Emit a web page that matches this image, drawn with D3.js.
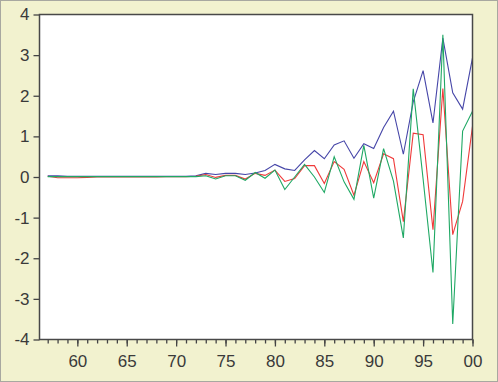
<!DOCTYPE html>
<html>
<head>
<meta charset="utf-8">
<script src="https://cdn.jsdelivr.net/npm/d3@7"></script>
<style>
  html, body { margin: 0; padding: 0; background: #f2f2cf; }
  #chart { width: 498px; height: 382px; }
  text { font-family: "Liberation Sans", Arial, sans-serif; }
</style>
</head>
<body>
<div id="chart"></div>
<script>
let dim = { width: 498, height: 382 };

// annual observations 1957-2000
const years = [1957, 1958, 1959, 1960, 1961, 1962, 1963, 1964, 1965, 1966, 1967,
  1968, 1969, 1970, 1971, 1972, 1973, 1974, 1975, 1976, 1977, 1978, 1979, 1980,
  1981, 1982, 1983, 1984, 1985, 1986, 1987, 1988, 1989, 1990, 1991, 1992, 1993,
  1994, 1995, 1996, 1997, 1998, 1999, 2000];

const blueSeries = [0.03, 0.03, 0.02, 0.02, 0.02, 0.02, 0.02, 0.02, 0.02, 0.02, 0.02,
  0.02, 0.02, 0.02, 0.02, 0.03, 0.09, 0.06, 0.09, 0.09, 0.06, 0.10, 0.16, 0.31,
  0.20, 0.16, 0.42, 0.65, 0.45, 0.79, 0.89, 0.46, 0.82, 0.70, 1.22, 1.62, 0.56,
  1.85, 2.62, 1.33, 3.42, 2.07, 1.67, 2.93];

const redSeries = [0.02, -0.02, -0.02, -0.02, -0.01, 0.0, 0.0, 0.0, 0.0, 0.0, 0.0,
  0.0, 0.01, 0.01, 0.01, 0.02, 0.06, -0.01, 0.04, 0.04, -0.05, 0.09, 0.04, 0.17,
  -0.11, -0.04, 0.28, 0.28, -0.16, 0.38, 0.19, -0.45, 0.38, -0.14, 0.57, 0.45, -1.10,
  1.08, 1.04, -1.30, 2.18, -1.42, -0.60, 1.25];

const greenSeries = [0.01, 0.01, 0.01, 0.01, 0.01, 0.01, 0.01, 0.01, 0.01, 0.01, 0.01,
  0.01, 0.01, 0.01, 0.01, 0.01, 0.03, -0.05, 0.03, 0.03, -0.08, 0.11, -0.03, 0.17,
  -0.31, 0.0, 0.31, 0.0, -0.38, 0.50, -0.12, -0.55, 0.78, -0.52, 0.70, -0.10, -1.50,
  2.17, -0.05, -2.35, 3.50, -3.62, 1.13, 1.62];

const yTicks = [-4, -3, -2, -1, 0, 1, 2, 3, 4];
const xMajorTicks = [1960, 1965, 1970, 1975, 1980, 1985, 1990, 1995, 2000];

let svg = d3.select('#chart').append('svg')
    .attr('width', dim.width)
    .attr('height', dim.height);

// outer border of the picture
svg.append('rect')
    .attr('x', 0.5).attr('y', 0.5)
    .attr('width', dim.width - 1).attr('height', dim.height - 1)
    .attr('fill', '#f2f2cf')
    .attr('stroke', '#a8a8a0');

let plot = { left: 39.5, right: 472.5, top: 14.5, bottom: 339.5 };

let scaleX = d3.scaleLinear()
    .domain([1956.17, 2000])
    .range([plot.left, plot.right]);

let scaleY = d3.scaleLinear()
    .domain([-4, 4])
    .range([plot.bottom, plot.top]);

svg.append('rect')
    .attr('x', plot.left).attr('y', plot.top)
    .attr('width', plot.right - plot.left)
    .attr('height', plot.bottom - plot.top)
    .attr('fill', '#ffffff');

// y axis
let axisY = svg.append('g')
    .attr('transform', `translate(${plot.left},0)`)
    .call(d3.axisLeft(scaleY).tickValues(yTicks).tickSize(6).tickPadding(4)
        .tickFormat(d3.format('d')));
axisY.select('.domain').remove();
axisY.selectAll('line').attr('stroke', '#444').attr('stroke-width', 1.3);
axisY.selectAll('text')
    .attr('font-size', 17).attr('fill', '#3a3a3a')
    .attr('font-family', '"Liberation Sans", Arial, sans-serif')
    .text(d => d < 0 ? '-' + Math.abs(d) : d);

// x axis: minor ticks every year, major ticks every five
let axisXMinor = svg.append('g')
    .attr('transform', `translate(0,${plot.bottom})`)
    .call(d3.axisBottom(scaleX).tickValues(years).tickSize(4).tickFormat(''));
axisXMinor.select('.domain').remove();
axisXMinor.selectAll('line').attr('stroke', '#444').attr('stroke-width', 1.3);

let axisX = svg.append('g')
    .attr('transform', `translate(0,${plot.bottom})`)
    .call(d3.axisBottom(scaleX).tickValues(xMajorTicks).tickSize(7).tickPadding(8)
        .tickFormat(d => d3.format('02d')(d % 100)));
axisX.select('.domain').remove();
axisX.selectAll('line').attr('stroke', '#444').attr('stroke-width', 1.3);
axisX.selectAll('text')
    .attr('font-size', 17).attr('fill', '#3a3a3a')
    .attr('font-family', '"Liberation Sans", Arial, sans-serif');

// series lines
let line = d3.line()
    .x((d, i) => scaleX(years[i]))
    .y(d => scaleY(d));

let series = [
  { values: blueSeries, color: '#4646a8' },
  { values: redSeries, color: '#f03a3a' },
  { values: greenSeries, color: '#1fa864' }
];

svg.selectAll('path.series')
    .data(series)
    .enter()
    .append('path')
    .attr('class', 'series')
    .attr('d', d => line(d.values))
    .attr('fill', 'none')
    .attr('stroke', d => d.color)
    .attr('stroke-width', 1.1);

// plot frame
svg.append('rect')
    .attr('x', plot.left).attr('y', plot.top)
    .attr('width', plot.right - plot.left)
    .attr('height', plot.bottom - plot.top)
    .attr('fill', 'none')
    .attr('stroke', '#484848')
    .attr('stroke-width', 1.5);
</script>
</body>
</html>
